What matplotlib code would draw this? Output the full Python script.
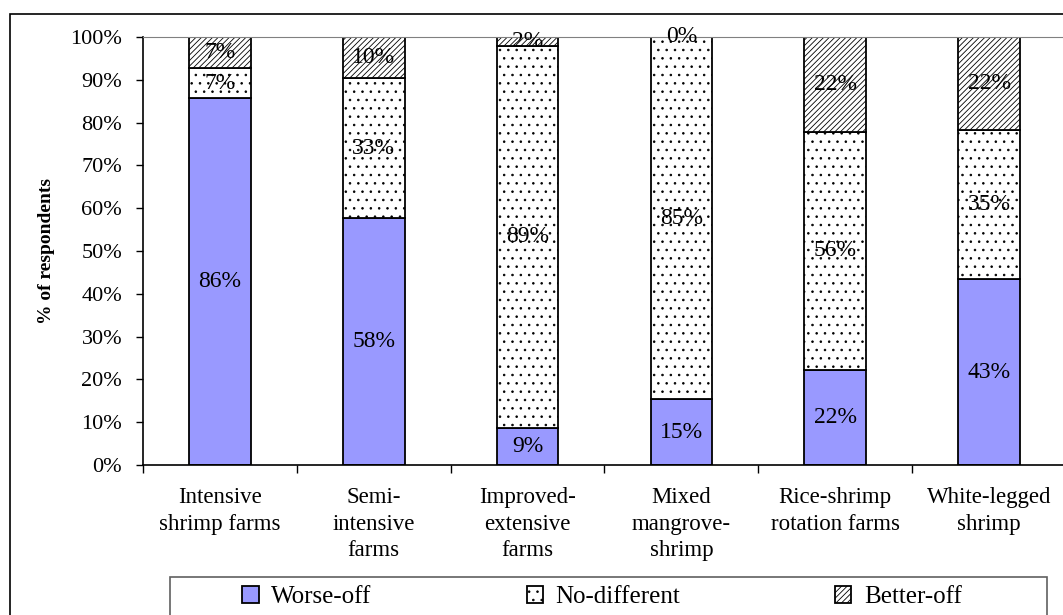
import matplotlib.pyplot as plt
from matplotlib.patches import Rectangle
import numpy as np

plt.rcParams['font.family'] = ['Liberation Serif', 'DejaVu Serif']
plt.rcParams['hatch.linewidth'] = 0.6

# Data (% of respondents)
categories = ["Intensive\nshrimp farms", "Semi-\nintensive\nfarms", "Improved-\nextensive\nfarms",
              "Mixed\nmangrove-\nshrimp", "Rice-shrimp\nrotation farms", "White-legged\nshrimp"]
worse_off = [85.7, 57.7, 8.6, 15.4, 22.2, 43.4]
no_different = [7.1, 32.7, 89.4, 84.6, 55.6, 34.9]
better_off = [7.1, 9.6, 2.0, 0.0, 22.2, 21.7]
series_names = ["Worse-off", "No-different", "Better-off"]

W, H = 1063, 615
fig = plt.figure(figsize=(W / 100, H / 100), dpi=100)
ax = fig.add_axes([143 / W, 1 - 465 / H, 923 / W, (465 - 37) / H])

x = np.arange(len(categories))
bw = 0.4
b1 = ax.bar(x, worse_off, bw, color='#9999FF', edgecolor='black', linewidth=1.3, label=series_names[0])
b2 = ax.bar(x, no_different, bw, bottom=worse_off, color='white', edgecolor='black',
            hatch='..', linewidth=1.3, label=series_names[1])
bottom2 = np.array(worse_off) + np.array(no_different)
b3 = ax.bar(x, better_off, bw, bottom=bottom2, color='white', edgecolor='black',
            hatch='//////', linewidth=1.3, label=series_names[2])

# Segment labels
for i in range(len(x)):
    segs = [(0, worse_off[i]), (worse_off[i], no_different[i]), (bottom2[i], better_off[i])]
    for b, v in segs:
        ax.text(x[i], b + v / 2, f"{round(v):d}%", ha='center', va='center', fontsize=17)

ax.set_xlim(-0.5, 5.5)
ax.set_ylim(0, 100)
ax.set_yticks(range(0, 101, 10))
ax.set_yticklabels([f"{v}%" for v in range(0, 101, 10)], fontsize=16)
ax.tick_params(axis='y', direction='out', length=5, width=1, pad=10)

# boundaries as major ticks, labels under bars as minor ticks
ax.set_xticks(np.arange(-0.5, 6, 1))
ax.set_xticklabels([])
ax.tick_params(axis='x', which='major', direction='out', length=6, width=1)
ax.set_xticks(x, minor=True)
ax.set_xticklabels(categories, minor=True, fontsize=16.5, linespacing=1.35, va='top')
ax.tick_params(axis='x', which='minor', length=0, pad=16)

ax.set_ylabel("% of respondents", fontsize=14, fontweight='bold')
ax.yaxis.set_label_coords(-0.095, 0.5)

ax.spines['top'].set_color('#808080')
ax.spines['right'].set_color('#808080')
for s in ['left', 'bottom']:
    ax.spines[s].set_linewidth(1.2)

# Legend
leg = fig.legend(handles=[b1, b2, b3], loc='center', ncol=3, frameon=False,
                 bbox_to_anchor=(602 / W, 1 - 597 / H), fontsize=18,
                 handlelength=0.65, handleheight=0.65, handletextpad=0.5, columnspacing=6.2)
fig.patches.append(Rectangle((170 / W, -0.1), (1047 - 170) / W, 0.1 + 1 - 577 / H,
                             transform=fig.transFigure, fill=False, edgecolor='#606060', linewidth=1.2))

# Outer frame
fig.patches.append(Rectangle((10 / W, -0.1), 1.2, 0.1 + 1 - 14 / H,
                             transform=fig.transFigure, fill=False, edgecolor='black', linewidth=1.2))

fig.savefig("out.png", dpi=100)
